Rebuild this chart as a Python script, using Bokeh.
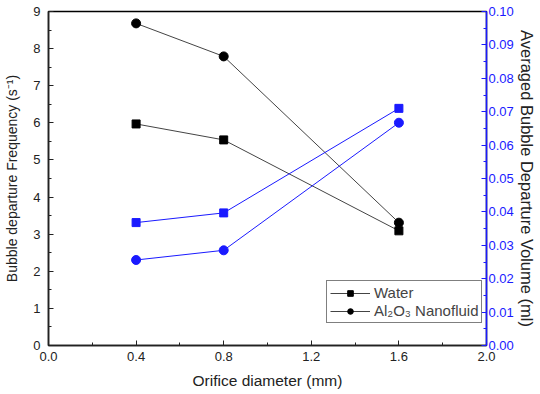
from bokeh.plotting import figure
from bokeh.models import Range1d, LinearAxis, FixedTicker, Legend, LegendItem, NumeralTickFormatter
from bokeh.embed import file_html
from bokeh.resources import INLINE

diameter = [0.4, 0.8, 1.6]
freq_water = [5.97, 5.54, 3.09]
freq_nano = [8.68, 7.79, 3.31]
vol_water = [0.0368, 0.0397, 0.0710]
vol_nano = [0.0256, 0.0285, 0.0667]

x_ticks = [0.0, 0.4, 0.8, 1.2, 1.6, 2.0]
x_minor = [0.2, 0.6, 1.0, 1.4, 1.8]
y_ticks = list(range(0, 10))
v_ticks = [0.0, 0.01, 0.02, 0.03, 0.04, 0.05, 0.06, 0.07, 0.08, 0.09, 0.10]

BLUE = "#1a1aff"
FONT = "Liberation Sans"

p = figure(width=540, height=394, output_backend="svg", toolbar_location=None,
           x_range=Range1d(0, 2.0), y_range=Range1d(0, 9),
           min_border_left=48, min_border_right=54, min_border_top=11, min_border_bottom=49)
p.extra_y_ranges = {"vol": Range1d(0, 0.10)}
p.xgrid.visible = False
p.ygrid.visible = False
p.outline_line_color = "black"
p.outline_line_width = 1.5
p.background_fill_color = "white"
p.border_fill_color = "white"

def style_axis(ax, color, label_size):
    ax.axis_line_color = color
    ax.axis_line_width = 1.5
    ax.major_tick_line_color = color
    ax.minor_tick_line_color = color
    ax.major_tick_in = 5
    ax.major_tick_out = 0
    ax.minor_tick_in = 3
    ax.minor_tick_out = 0
    ax.major_label_text_font = FONT
    ax.major_label_text_font_size = "13px"
    ax.major_label_text_color = color
    ax.axis_label_text_font = FONT
    ax.axis_label_text_font_size = label_size
    ax.axis_label_text_font_style = "normal"
    ax.axis_label_text_color = "#222222"

xa = p.xaxis[0]
xa.ticker = FixedTicker(ticks=x_ticks, minor_ticks=x_minor)
xa.formatter = NumeralTickFormatter(format="0.0")
xa.axis_label = "Orifice diameter (mm)"
style_axis(xa, "#222222", "15.5px")
xa.axis_label_standoff = 8
xa.major_label_standoff = 6

ya = p.yaxis[0]
ya.ticker = FixedTicker(ticks=y_ticks, minor_ticks=[v + 0.5 for v in range(0, 9)])
ya.axis_label = "Bubble departure Frequency (s\u207b\u00b9)"
style_axis(ya, "#222222", "14px")
ya.axis_label_standoff = 10
ya.major_label_standoff = 8

ra = LinearAxis(y_range_name="vol", axis_label="Averaged Bubble Departure Volume (ml)")
ra.ticker = FixedTicker(ticks=v_ticks, minor_ticks=[v + 0.005 for v in v_ticks[:-1]])
ra.formatter = NumeralTickFormatter(format="0.00")
style_axis(ra, BLUE, "16.5px")
ra.axis_label_standoff = 1
ra.major_label_standoff = 2
p.add_layout(ra, "right")

lw = p.line(diameter, freq_water, line_color="#444444", line_width=1)
sw = p.scatter(diameter, freq_water, marker="square", size=8, color="black")
ln = p.line(diameter, freq_nano, line_color="#444444", line_width=1)
sn = p.scatter(diameter, freq_nano, marker="circle", size=9, color="black")

p.line(diameter, vol_water, y_range_name="vol", line_color=BLUE, line_width=1)
p.scatter(diameter, vol_water, y_range_name="vol", marker="square", size=8, color=BLUE)
p.line(diameter, vol_nano, y_range_name="vol", line_color=BLUE, line_width=1)
p.scatter(diameter, vol_nano, y_range_name="vol", marker="circle", size=9, color=BLUE)

legend = Legend(items=[LegendItem(label="Water", renderers=[lw, sw]),
                       LegendItem(label="Al\u2082O\u2083 Nanofluid", renderers=[ln, sn])],
                location=(278, 22))
legend.border_line_color = "black"
legend.border_line_width = 1
legend.background_fill_alpha = 1
legend.label_text_font = FONT
legend.label_text_font_size = "15px"
legend.glyph_width = 40
legend.glyph_height = 14
legend.label_standoff = 4
legend.label_height = 14
legend.padding = 3
legend.spacing = 1
legend.margin = 0
p.add_layout(legend, "center")

open("out.html", "w").write(file_html(p, INLINE))
